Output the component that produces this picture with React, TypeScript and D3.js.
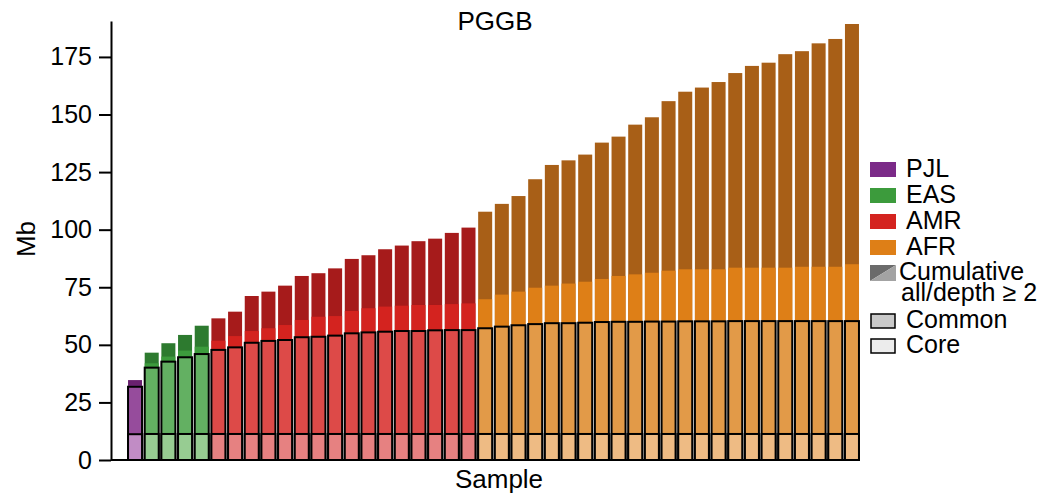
import React, { useEffect, useRef } from 'react';
import * as d3 from 'd3';

// populations, in plotting order, and how many samples each has
const populations = ['PJL', 'EAS', 'AMR', 'AFR'];
const sampleCounts = [1, 4, 16, 23];

// Mb per sample
const allMb = [
  34.7,
  46.6, 50.7, 54.3, 58.3,
  61.5, 64.4, 71.2, 73.1, 75.7, 79.9, 81.1, 83.2, 87.3, 88.9, 91.5, 93.1, 95.0, 96.1, 98.6, 100.9,
  107.8, 111.2, 114.6, 121.9, 128.1, 130.1, 132.6, 137.8, 140.4, 145.6, 148.8, 155.8, 159.9, 161.7,
  164.1, 168.0, 171.1, 172.5, 176.2, 177.5, 180.9, 182.8, 189.3,
];
const depth2Mb = [
  32.3,
  42.0, 44.9, 47.5, 49.2,
  51.8, 53.8, 56.0, 57.2, 58.6, 60.8, 62.2, 62.5, 64.7, 65.9, 66.6, 67.0, 67.3, 67.3, 67.7, 68.0,
  69.8, 71.8, 73.1, 74.8, 75.7, 76.6, 77.4, 78.6, 79.9, 80.6, 81.3, 82.2, 82.8, 82.8,
  82.8, 83.5, 83.5, 83.5, 83.5, 83.9, 83.9, 83.9, 85.0,
];
const commonMb = [
  31.8,
  40.1, 42.7, 44.6, 46.0,
  47.8, 48.9, 50.9, 51.7, 52.1, 53.3, 53.5, 54.0, 55.0, 55.4, 55.7, 56.0, 56.0, 56.3, 56.4, 56.4,
  57.2, 57.9, 58.5, 59.0, 59.4, 59.4, 59.6, 59.9, 60.0, 60.0, 60.1, 60.1, 60.2, 60.2,
  60.2, 60.3, 60.3, 60.3, 60.3, 60.3, 60.3, 60.3, 60.3,
];
const coreMb = [
  11.2,
  11.3, 11.3, 11.3, 11.3,
  11.3, 11.3, 11.3, 11.3, 11.3, 11.3, 11.3, 11.3, 11.3, 11.3, 11.3, 11.3, 11.3, 11.3, 11.3, 11.3,
  11.3, 11.3, 11.3, 11.3, 11.3, 11.3, 11.3, 11.3, 11.3, 11.3, 11.3, 11.3, 11.3, 11.3,
  11.3, 11.3, 11.3, 11.3, 11.3, 11.3, 11.3, 11.3, 11.3,
];
const yTicks = [0, 25, 50, 75, 100, 125, 150, 175];

const colors: Record<string, { all: string; depth: string; common: string; core: string }> = {
  PJL: { all: '#69206f', depth: '#7b2a88', common: '#964c9c', core: '#c18cc5' },
  EAS: { all: '#2d7a2f', depth: '#3c9b3c', common: '#63b062', core: '#97cc92' },
  AMR: { all: '#a61b1b', depth: '#d4231f', common: '#dd4a48', core: '#e68181' },
  AFR: { all: '#a85f17', depth: '#de7f17', common: '#e29a48', core: '#eebb84' },
};
const font = '"Liberation Sans", Arial, Helvetica, sans-serif';

export default function App() {
  const ref = useRef<SVGSVGElement>(null);

  useEffect(() => {
    const svg = d3.select(ref.current);
    svg.selectAll('*').remove();

    // one population label per sample
    const pops: string[] = [];
    populations.forEach((p, k) => {
      for (let j = 0; j < sampleCounts[k]; j++) pops.push(p);
    });
    const data = allMb.map((v, i) => ({
      i, pop: pops[i], all: v, depth: depth2Mb[i], common: commonMb[i], core: coreMb[i],
    }));

    const x = d3.scaleBand<number>()
      .domain(d3.range(data.length))
      .range([126.7, 860.3])
      .paddingInner(0.16)
      .paddingOuter(0.08);
    const y = d3.scaleLinear().domain([0, 190.6]).range([460, 21]);
    const bw = x.bandwidth();

    const gs = svg.append('g').selectAll('g').data(data).enter().append('g');

    // cumulative all, then depth >= 2 on top of it
    gs.append('rect')
      .attr('x', d => x(d.i)!)
      .attr('y', d => y(d.all))
      .attr('width', bw)
      .attr('height', d => y(0) - y(d.all))
      .attr('fill', d => colors[d.pop].all);
    gs.append('rect')
      .attr('x', d => x(d.i)!)
      .attr('y', d => y(d.depth))
      .attr('width', bw)
      .attr('height', d => y(0) - y(d.depth))
      .attr('fill', d => colors[d.pop].depth);
    // common and core, outlined
    gs.append('rect')
      .attr('x', d => x(d.i)!)
      .attr('y', d => y(d.common))
      .attr('width', bw)
      .attr('height', d => y(0) - y(d.common))
      .attr('fill', d => colors[d.pop].common)
      .attr('stroke', '#000')
      .attr('stroke-width', 2);
    gs.append('rect')
      .attr('x', d => x(d.i)!)
      .attr('y', d => y(d.core))
      .attr('width', bw)
      .attr('height', d => y(0) - y(d.core))
      .attr('fill', d => colors[d.pop].core)
      .attr('stroke', '#000')
      .attr('stroke-width', 2);

    // axes
    const yAxis = svg.append('g')
      .attr('transform', 'translate(111,0)')
      .call(d3.axisLeft(y).tickValues(yTicks).tickSize(12).tickSizeOuter(0).tickPadding(7));
    yAxis.selectAll('path, line').attr('stroke', '#000').attr('stroke-width', 2);
    yAxis.selectAll('text').attr('font-size', 25).attr('font-family', font).attr('fill', '#000');

    svg.append('line')
      .attr('x1', 111).attr('x2', x(data.length - 1)! + bw)
      .attr('y1', y(0)).attr('y2', y(0))
      .attr('stroke', '#000').attr('stroke-width', 2);

    svg.append('text').attr('x', 495).attr('y', 30).attr('text-anchor', 'middle')
      .attr('font-family', font).attr('font-size', 26).text('PGGB');
    svg.append('text').attr('x', 499).attr('y', 488).attr('text-anchor', 'middle')
      .attr('font-family', font).attr('font-size', 26).text('Sample');
    svg.append('text').attr('transform', 'translate(35,239) rotate(-90)').attr('text-anchor', 'middle')
      .attr('font-family', font).attr('font-size', 26).text('Mb');

    // legend
    const lg = svg.append('g').attr('font-family', font).attr('font-size', 25);
    populations.forEach((p, k) => {
      const base = 177 + k * 26;
      lg.append('rect').attr('x', 870).attr('y', base - 15).attr('width', 26).attr('height', 15)
        .attr('fill', colors[p].depth);
      lg.append('text').attr('x', 906).attr('y', base).text(p);
    });
    lg.append('path').attr('d', 'M870,265H896L870,281Z').attr('fill', '#6b6b6b');
    lg.append('path').attr('d', 'M896,265V281H870Z').attr('fill', '#a3a3a3');
    lg.append('text').attr('x', 899).attr('y', 280).text('Cumulative');
    lg.append('text').attr('x', 901).attr('y', 301).text('all/depth \u2265 2');
    lg.append('rect').attr('x', 871).attr('y', 314).attr('width', 24).attr('height', 14)
      .attr('fill', '#c9c9c9').attr('stroke', '#000').attr('stroke-width', 1.5);
    lg.append('text').attr('x', 906).attr('y', 328).text('Common');
    lg.append('rect').attr('x', 871).attr('y', 339).attr('width', 24).attr('height', 14)
      .attr('fill', '#ececec').attr('stroke', '#000').attr('stroke-width', 1.5);
    lg.append('text').attr('x', 906).attr('y', 353).text('Core');
  }, []);

  return (
    <svg ref={ref} width={1050} height={495}
      style={{ position: 'absolute', left: 0, top: 0, background: '#fff' }} />
  );
}
